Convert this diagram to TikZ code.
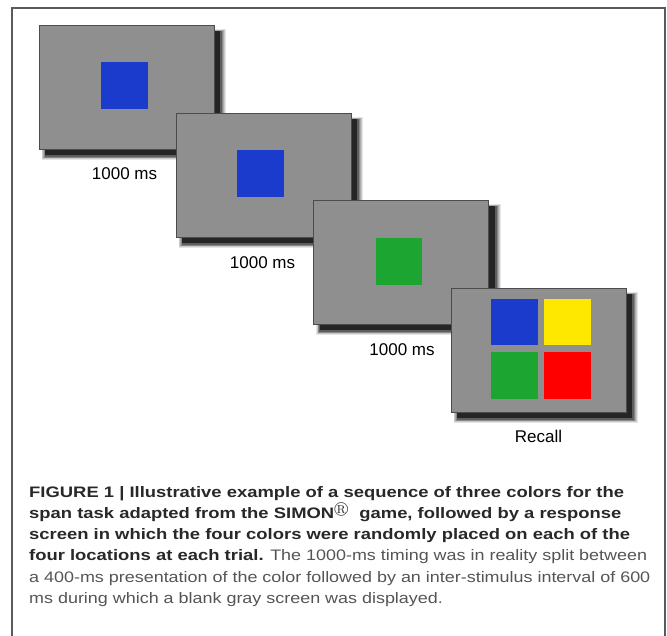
\documentclass[tikz,border=0pt]{standalone}
\usepackage{fontspec}
\usepackage{amssymb}
\setmainfont{Liberation Sans}
\newfontfamily\capfont[UprightFeatures={FakeStretch=1.18},BoldFeatures={FakeStretch=1.212}]{Liberation Sans}
\usetikzlibrary{shadows,calc}
\definecolor{scrgray}{RGB}{143,143,143}
\definecolor{sqblue}{RGB}{27,59,204}
\definecolor{sqgreen}{RGB}{28,165,49}
\definecolor{sqyellow}{RGB}{255,232,0}
\definecolor{sqred}{RGB}{255,0,0}
\definecolor{framegray}{RGB}{90,90,90}
\definecolor{capbold}{RGB}{40,40,40}
\definecolor{capreg}{RGB}{85,85,85}
\tikzset{
  softshadow/.style={
    general shadow={fill=black,opacity=0.10,shadow xshift=7pt,shadow yshift=-7pt,shadow scale=1.055},
    general shadow={fill=black,opacity=0.12,shadow xshift=7pt,shadow yshift=-7pt,shadow scale=1.045},
    general shadow={fill=black,opacity=0.15,shadow xshift=7pt,shadow yshift=-7pt,shadow scale=1.035},
    general shadow={fill=black,opacity=0.2,shadow xshift=7pt,shadow yshift=-7pt,shadow scale=1.025},
    general shadow={fill=black,opacity=0.3,shadow xshift=7pt,shadow yshift=-7pt,shadow scale=1.015},
    general shadow={fill=black,opacity=0.6,shadow xshift=6pt,shadow yshift=-6pt,shadow scale=1.0}},
  screen/.style={softshadow,draw=black!70,line width=0.8pt,fill=scrgray,
    minimum width=175pt,minimum height=124pt,inner sep=0pt,outer sep=0pt,anchor=north west},
  sq/.style={minimum size=46.5pt,inner sep=0pt,outer sep=0pt,anchor=north west},
  lbl/.style={font=\fontsize{17}{20}\selectfont,text=black,inner sep=0pt},
  capline/.style={anchor=base west,inner sep=0pt,font=\capfont\fontsize{15.2}{18}\selectfont},
}
\begin{document}
\begin{tikzpicture}[x=1pt,y=-1pt]
\useasboundingbox (0,0) rectangle (667,635);
\fill[white] (0,0) rectangle (667,635);
% frame
\draw[framegray,line width=1.3pt] (12,640) -- (12,8) -- (665,8) -- (665,640);
% screens
\node[screen] (s1) at (39,25) {};
\node[sq,fill=sqblue] (b1) at ($(s1.north west)+(62,37)$) {};
\node[lbl] (l1) at ($(s1.south)+(-2,25)$) {1000 ms};
\node[screen] (s2) at (176,113) {};
\node[sq,fill=sqblue] (b2) at ($(s2.north west)+(61,37)$) {};
\node[lbl] (l2) at ($(s2.south)+(-1,26)$) {1000 ms};
\node[screen] (s3) at (313.5,200) {};
\node[sq,fill=sqgreen] (g3) at ($(s3.north west)+(62,38)$) {};
\node[lbl] (l3) at ($(s3.south)+(1,26)$) {1000 ms};
\node[screen] (s4) at (451,288) {};
\node[sq,fill=sqblue] (q1) at ($(s4.north west)+(40,10.5)$) {};
\node[sq,fill=sqyellow] (q2) at ($(s4.north west)+(93,10.5)$) {};
\node[sq,fill=sqgreen] (q3) at ($(s4.north west)+(40,64)$) {};
\node[sq,fill=sqred] (q4) at ($(s4.north west)+(93,64)$) {};
\node[lbl] (l4) at ($(s4.south)+(0,24)$) {Recall};
% caption
\node[capline,text=capbold] (c1) at (29,497) {\bfseries FIGURE 1 | Illustrative example of a sequence of three colors for the};
\node[capline,text=capbold] (c2) at (29,518.3) {\bfseries span task adapted from the SIMON$^{\circledR}$\ \ game, followed by a response};
\node[capline,text=capbold] (c3) at (29,539.6) {\bfseries screen in which the four colors were randomly placed on each of the};
\node[capline,text=capreg] (c4) at (29,560.9) {{\color{capbold}\bfseries four locations at each trial.} The 1000-ms timing was in reality split between};
\node[capline,text=capreg] (c5) at (29,582.2) {a 400-ms presentation of the color followed by an inter-stimulus interval of 600};
\node[capline,text=capreg] (c6) at (29,603.5) {ms during which a blank gray screen was displayed.};
\end{tikzpicture}
\end{document}
